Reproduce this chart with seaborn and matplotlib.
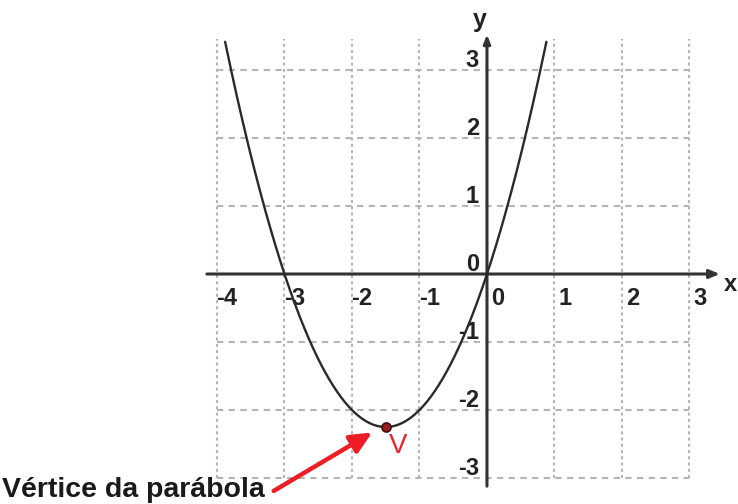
import numpy as np
import pandas as pd
import matplotlib
matplotlib.use("Agg")
import matplotlib.pyplot as plt
import seaborn as sns

# f(x) = a*x^2 + b*x + c
coef_a, coef_b, coef_c = 1.0, 3.0, 0.0
x_start, x_end = -3.88, 0.88
vertex = (-1.5, -2.25)

x_ticks = [-4, -3, -2, -1, 0, 1, 2, 3]
y_ticks = [-3, -2, -1, 0, 1, 2, 3]
x_tick_labels = ["-4", "-3", "-2", "-1", "0", "1", "2", "3"]
y_tick_labels = ["-3", "-2", "-1", "0", "1", "2", "3"]

sns.set_style("white")
plt.rcParams["font.family"] = ["Liberation Sans", "DejaVu Sans"]

fig = plt.figure(figsize=(7.38, 5.04), dpi=100)
ax = fig.add_axes([0, 0, 1, 1])
ax.set_xlim(-7.215, 3.719)
ax.set_ylim(-3.382, 4.029)
ax.axis("off")

# dotted grid: short dots on verticals, dashes on horizontals
for xv in x_ticks:
    if xv != 0:
        ax.plot([xv, xv], [-3, 3.45], color="#b4b4b4", linewidth=1.5,
                linestyle=(0, (1.4, 1.6)), zorder=1)
for yv in y_ticks:
    if yv != 0:
        ax.plot([-4, 3], [yv, yv], color="#b4b4b4", linewidth=1.5,
                linestyle=(0, (3.0, 2.6)), zorder=1)

# axes with arrowheads
ax.annotate("", xy=(3.45, 0), xytext=(-4.15, 0),
            arrowprops=dict(arrowstyle="-|>,head_length=0.6,head_width=0.25",
                            color="#333333", lw=2.2, shrinkA=0, shrinkB=0), zorder=2)
ax.annotate("", xy=(0, 3.52), xytext=(0, -3.12),
            arrowprops=dict(arrowstyle="-|>,head_length=0.5,head_width=0.2",
                            color="#333333", lw=2.2, shrinkA=0, shrinkB=0), zorder=2)

tick_kw = dict(fontsize=17, fontweight="bold", color="#222222", zorder=3)
for xv, lab in zip(x_ticks, x_tick_labels):
    dx = -0.01 if xv < 0 else 0.06
    ax.text(xv + dx, -0.46, lab, ha="left", va="baseline", **tick_kw)
for yv, lab in zip(y_ticks, y_tick_labels):
    ax.text(-0.12, yv + 0.045, lab, ha="right", va="baseline", **tick_kw)

ax.text(3.6, -0.16, "x", ha="center", va="center", fontsize=17,
        fontweight="bold", color="#222222")
ax.text(-0.1, 3.74, "y", ha="center", va="center", fontsize=18,
        fontweight="bold", color="#222222")

xs = np.linspace(x_start, x_end, 400)
curve = pd.DataFrame({"x": xs, "y": coef_a * xs**2 + coef_b * xs + coef_c})
sns.lineplot(data=curve, x="x", y="y", color="#2a2a2a", linewidth=1.7,
             ax=ax, zorder=4, sort=False)

ax.plot([vertex[0]], [vertex[1]], marker="o", markersize=6.5,
        markerfacecolor="#9b1c1c", markeredgecolor="#3a1010",
        markeredgewidth=1.2, zorder=5)
ax.text(-1.32, -2.53, "V", ha="center", va="center", fontsize=20,
        color="#e8262b", zorder=5)

ax.annotate("", xy=(-1.7, -2.33), xytext=(-3.16, -3.19),
            arrowprops=dict(arrowstyle="-|>,head_length=1.3,head_width=0.6",
                            color="#ee1c24", lw=3.2, shrinkA=0, shrinkB=0), zorder=5)
ax.text(-7.185, -3.28, "Vértice da parábola", ha="left", va="baseline",
        fontsize=20.5, fontweight="bold", color="#1a1a1a", zorder=5)

fig.savefig("out.png", dpi=100)
